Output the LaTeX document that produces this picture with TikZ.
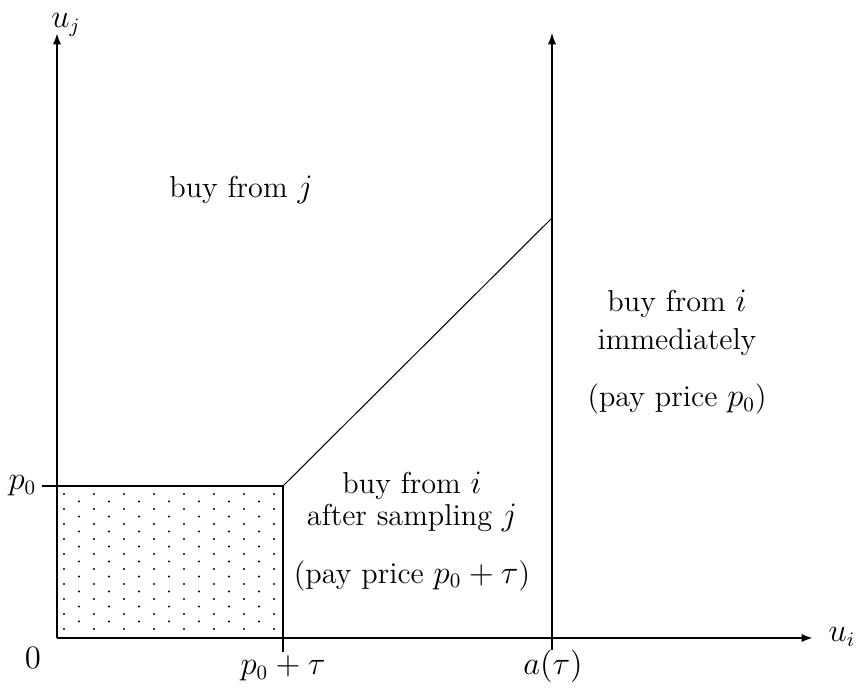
\documentclass[tikz,border=0pt]{standalone}
\usepackage{tikz}
\usetikzlibrary{arrows.meta,positioning}

\begin{document}
\begin{tikzpicture}[x=0.44pt, y=0.44pt,
			every node/.style={font=\fontsize{13.3}{16}\selectfont},
			axis/.style={line width=0.9pt, -{Latex[length=5pt,width=3.6pt]}},
			thin line/.style={line width=0.45pt},
			region/.style={anchor=base}]
			\useasboundingbox (-57,-50) rectangle (800,638);
			\coordinate (O) at (0,0);
			\coordinate (xend) at (756,0);
			\coordinate (yend) at (0,605);
			\coordinate (ptop) at (-15,152);
			\coordinate (corner) at (226,152);
			\coordinate (ctick) at (226,-14);
			\coordinate (abot) at (495,-12);
			\coordinate (atop) at (495,605);
			\coordinate (kink) at (495,420);
			% dotted region
			\foreach \n in {0,...,18} {
				\foreach \m in {0,...,14} {
					\pgfmathparse{int(mod(\m+\n,2))}
					\ifnum\pgfmathresult=0
						\fill (7+15*\m,144-7.5*\n) circle (0.5pt);
					\fi
				}
			}
			\draw[thin line] (ptop) -- (corner) -- (ctick);
			\draw[thin line] (corner) -- (kink);
			\draw[thin line, -{Latex[length=5pt,width=3.6pt]}] (abot) -- (atop);
			\draw[axis] (O) -- (xend);
			\draw[axis] (O) -- (yend);
			% labels
			\node[inner sep=1pt] (uj) at (9,613) {$u_j$};
			\node (ui) at (785,1) {$u_i$};
			\node (zero) at (-24,-20) {$0$};
			\node[left=-1pt of ptop] (p0) {$p_0$};
			\node[below=-2pt of ctick] (pt) {$p_0+\tau$};
			\node (atau) at (496,-28) {$a(\tau)$};
			\node[region] (bj) at (184,440) {buy from $j$};
			% right of a(tau)
			\node[region] (bimm1) at (620,326) {buy from $i$};
			\node[region] (bimm2) at (620,288) {immediately};
			\node[region] (bimm3) at (620,231) {(pay price $p_0$)};
			% between the line and a(tau)
			\node[region] (bsamp1) at (355,145) {buy from $i$};
			\node[region] (bsamp2) at (355,113) {after sampling $j$};
			\node[region] (bsamp3) at (355,55) {(pay price $p_0+\tau$)};
		\end{tikzpicture}
\end{document}
